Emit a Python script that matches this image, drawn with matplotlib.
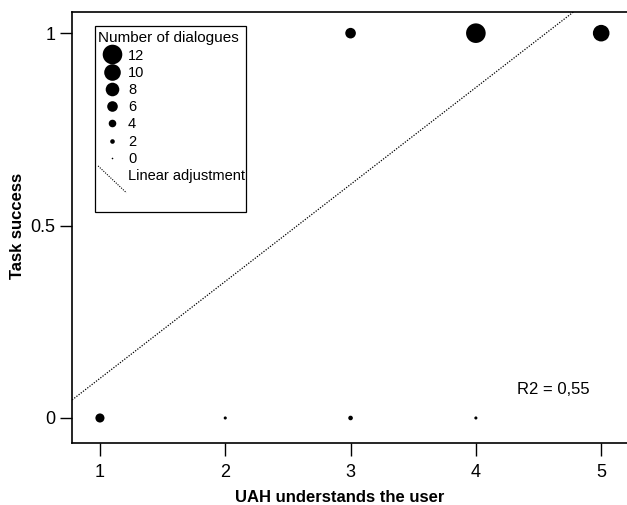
import numpy as np
import matplotlib
matplotlib.use("Agg")
import matplotlib.pyplot as plt
from matplotlib.lines import Line2D
from matplotlib.patches import Rectangle
from matplotlib.legend_handler import HandlerBase

plt.rcParams['font.family'] = ['Liberation Sans', 'DejaVu Sans']

# data: (x, y) and number of dialogues at that point
uah = [1, 2, 3, 4, 3, 4, 5]
success = [0, 0, 0, 0, 1, 1, 1]
n_dialogues = [5, 1, 2, 1, 6, 12, 10]
legend_counts = [12, 10, 8, 6, 4, 2, 0]
x_ticks = [1, 2, 3, 4, 5]
y_ticks = [0, 0.5, 1]
y_ticklabels = ["0", "0.5", "1"]


def diam_pt(n):
    # marker diameter in points, grows linearly with count
    return (1.6 + 1.5 * np.asarray(n)) * 0.72


class DiagHandler(HandlerBase):
    def create_artists(self, legend, orig_handle, xdescent, ydescent,
                       width, height, fontsize, trans):
        mid = height / 2 - ydescent
        ln = Line2D([-xdescent, width - xdescent],
                    [mid + 6.5, mid - 12.9],
                    color='black', ls=(0, (1, 1.2)), lw=0.8)
        ln.set_transform(trans)
        return [ln]


fig = plt.figure(figsize=(6.27, 5.05), dpi=100)
ax = fig.add_axes([72 / 627, 1 - 443 / 505, 1 - 72 / 627, 431 / 505])

x = np.array(uah, dtype=float)
y = np.array(success, dtype=float)
w = np.array(n_dialogues, dtype=float)
slope, icpt = np.polyfit(x, y, 1, w=np.sqrt(w))
xs = np.array([0.5, 5.5])
ax.plot(xs, icpt + slope * xs, color='black', ls=(0, (1, 1.2)), lw=0.9)

ax.scatter(x, y, s=diam_pt(n_dialogues) ** 2, color='black', zorder=3,
           linewidths=0)

ax.set_xlim(0.777, 5.206)
ax.set_ylim(-0.065, 1.055)
ax.set_xticks(x_ticks)
ax.set_yticks(y_ticks)
ax.set_yticklabels(y_ticklabels)
ax.tick_params(length=9, width=1, labelsize=13)
ax.tick_params(axis='x', pad=6)
ax.tick_params(axis='y', pad=3)
ax.spines['right'].set_visible(False)
for s in ['left', 'bottom', 'top']:
    ax.spines[s].set_linewidth(1.2)

ax.set_xlabel("UAH understands the user", fontsize=12, fontweight='bold')
ax.set_ylabel("Task success", fontsize=12, fontweight='bold')
ax.xaxis.set_label_coords(0.483, -0.108)
ax.yaxis.set_label_coords(-0.085, 0.503)

ax.text(4.33, 0.062, "R2 = 0,55", fontsize=12)

handles = [Line2D([], [], marker='o', ls='', color='black', markeredgewidth=0,
                  markersize=float(diam_pt(c))) for c in legend_counts]
labels = [str(c) for c in legend_counts]
handles.append(Line2D([], [], color='black'))
labels.append("Linear adjustment")
hmap = {handles[-1]: DiagHandler()}
leg = ax.legend(handles, labels, title="Number of dialogues",
                loc='upper left', bbox_to_anchor=(0.047, 0.955),
                borderaxespad=0.0, frameon=False, fontsize=10.5,
                title_fontsize=11, handlelength=1.95, handletextpad=0.1,
                labelspacing=0.22, borderpad=0.0, alignment='left',
                handler_map=hmap)
ax.add_patch(Rectangle((0.041, 0.536), 0.2725, 0.431, transform=ax.transAxes,
                       fill=False, lw=0.9, edgecolor='black'))

fig.savefig("out.png", dpi=100)
